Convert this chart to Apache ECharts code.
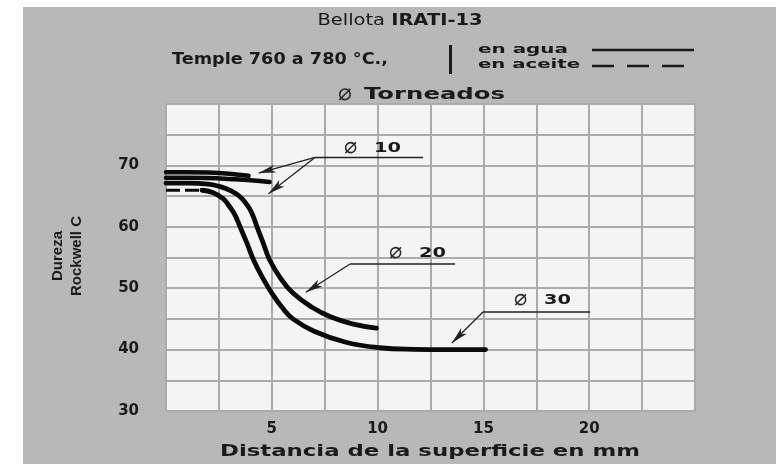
<!DOCTYPE html>
<html><head><meta charset="utf-8">
<script src="https://cdn.jsdelivr.net/npm/echarts@6/dist/echarts.min.js"></script>
<style>
html,body{margin:0;padding:0;background:#fff;width:776px;height:464px;overflow:hidden}
#c{position:absolute;left:23px;top:7px;width:753px;height:457px}
</style>
</head><body><div id="c"></div>
<script>
// ---- data (mm from surface, HRC) ----
const xTickLabels = [5, 10, 15, 20];
const yTickLabels = [30, 40, 50, 60, 70];
const curve10a = [[0,68.9],[1,68.9],[2,68.85],[3,68.65],[3.9,68.3]];
const curve10b = [[0,68.0],[1,68.0],[2,67.95],[3,67.8],[4,67.6],[4.9,67.3]];
const curve20 = [[0,67.1],[1,67.1],[2,66.95],[2.6,66.5],[3.1,65.8],[3.5,64.9],[3.8,63.7],[4.05,62.3],[4.3,60.0],[4.6,57.3],[4.9,54.6],[5.4,51.7],[6.0,49.2],[6.9,46.9],[7.8,45.3],[8.8,44.2],[9.95,43.5]];
const curve30 = [[1.7,65.95],[2.2,65.6],[2.7,64.6],[3.0,63.3],[3.25,62.0],[3.5,60.0],[3.83,57.3],[4.15,54.5],[4.55,51.8],[5.0,49.2],[5.5,46.8],[6.0,45.0],[7.0,43.0],[8.5,41.2],[10.1,40.3],[11.7,40.05],[13.3,40.0],[15.1,40.0]];
const curveAceite = [[0,65.95],[1.7,65.95]];
// callouts
const leader10 = [[7.04,71.29],[12.15,71.29]];
const arrows10 = [[[7.04,71.29],[4.38,68.75]], [[7.04,71.29],[4.84,65.39]]];
const leader20 = [[8.70,53.94],[13.66,53.94]];
const arrows20 = [[[8.70,53.94],[6.61,49.35]]];
const leader30 = [[14.98,46.12],[20.04,46.12]];
const arrows30 = [[[14.98,46.12],[13.51,41.07]]];
const calloutText = ['10', '20', '30'];
const calloutAt = [[8.46,72.85],[10.59,55.75],[16.49,48.1]];

const FF = 'DejaVu Sans';
const INK = '#1a1a1a';
const chart = echarts.init(document.getElementById('c'), null, {renderer: 'canvas'});

function curve(data, w) {
  return {type:'line', data, showSymbol:false, smooth:0.45, silent:true,
    lineStyle:{color:'#0a0a0a', width:w, cap:'round'}, z:5};
}
function leader(line, arrows) {
  return {type:'line', data:line, showSymbol:false, silent:true, z:4,
    lineStyle:{color:'#222', width:1.3},
    markLine:{silent:true, animation:false, symbol:['none','arrow'], symbolSize:[1,1],
      label:{show:false}, lineStyle:{color:'#222', width:1.3, type:'solid'},
      emphasis:{disabled:true},
      data: arrows.map(a => [{coord:a[0], symbol:'none'}, {coord:a[1], symbol:'arrow', symbolSize:[6,17]}])}};
}

chart.setOption({
  animation:false,
  backgroundColor:'#b8b8b8',
  grid:{left:143, right:81, top:97, bottom:53, show:true, backgroundColor:'#f4f4f4', borderWidth:0},
  xAxis:{type:'value', min:0, max:25, interval:2.5,
    axisLine:{show:false}, axisTick:{show:false},
    splitLine:{show:true, lineStyle:{color:'#ababab', width:2}},
    axisLabel:{margin:11, color:INK, fontFamily:FF, fontWeight:'bold', fontSize:15,
      formatter:v => xTickLabels.includes(v) ? String(v) : ''}},
  yAxis:{type:'value', min:30, max:80, interval:5,
    axisLine:{show:false}, axisTick:{show:false},
    splitLine:{show:true, lineStyle:{color:'#ababab', width:2}},
    axisLabel:{margin:27, color:INK, fontFamily:FF, fontWeight:'bold', fontSize:15,
      formatter:v => yTickLabels.includes(v) ? String(v) : ''}},
  series:[
    leader(leader10, arrows10), leader(leader20, arrows20), leader(leader30, arrows30),
    curve(curve10a, 4.5), curve(curve10b, 4.5), curve(curve20, 4.8), curve(curve30, 4.8),
    {type:'line', data:curveAceite, showSymbol:false, silent:true, z:5,
      lineStyle:{color:'#0a0a0a', width:3, type:[14,5]}}
  ]
});

// ---- text layout helpers ----
const mctx = document.createElement('canvas').getContext('2d');
function tw(text, size, weight, fam) { mctx.font = `${weight} ${size}px "${fam||FF}"`; return mctx.measureText(text).width; }
function stretched(text, x, y, size, target, align, weight) {
  const w = tw(text, size, weight||'bold');
  return {type:'text', x, y, scaleX: target / w, silent:true, z:10,
    style:{text, fill:INK, fontFamily:FF, fontSize:size, fontWeight:weight||'bold',
      textAlign:align, textVerticalAlign:'middle', verticalAlign:'middle'}};
}
function diam(x, y, size) {
  return {type:'text', x, y, silent:true, z:10,
    style:{text:'⌀', fill:'#2a2a2a', fontFamily:FF, fontSize:size, fontWeight:'normal',
      textAlign:'left', textVerticalAlign:'middle', verticalAlign:'middle'}};
}
const OX = 23, OY = 7;
const g = [];
(function(){
  const s = 15;
  const w = tw('Bellota ', s, 'normal') + tw('IRATI-13', s, 'bold');
  g.push({type:'text', x:400-OX, y:21-OY, scaleX:165 / w, silent:true, z:10,
    style:{text:'{a|Bellota }{b|IRATI-13}', textAlign:'center', textVerticalAlign:'middle', verticalAlign:'middle',
      rich:{a:{fontFamily:FF, fontSize:s, fontWeight:'normal', fill:INK},
            b:{fontFamily:FF, fontSize:s, fontWeight:'bold', fill:INK}}}});
})();
g.push(stretched('Temple 760 a 780 °C.,', 172-OX, 60-OY, 15, 216, 'left'));
g.push({type:'rect', shape:{x:449-OX, y:45-OY, width:3, height:29}, style:{fill:INK}, silent:true, z:10});
g.push(stretched('en agua', 478-OX, 50-OY, 13, 90, 'left'));
g.push(stretched('en aceite', 478-OX, 65-OY, 13, 102, 'left'));
g.push({type:'line', shape:{x1:592-OX, y1:50-OY, x2:694-OX, y2:50-OY}, style:{stroke:INK, lineWidth:2.5}, silent:true, z:10});
g.push({type:'line', shape:{x1:592-OX, y1:66-OY, x2:697-OX, y2:66-OY}, style:{stroke:INK, lineWidth:2.5, lineDash:[22,13]}, silent:true, z:10});
g.push(diam(338-OX, 94-OY, 23));
g.push(stretched('Torneados', 364-OX, 95-OY, 15, 141, 'left'));
g.push(stretched('Distancia de la superficie en mm', 430-OX, 452-OY, 15, 420, 'center'));
g.push({type:'text', x:67-OX, y:256-OY, rotation:Math.PI/2, silent:true, z:10,
  style:{text:'Dureza\nRockwell C', fill:INK, fontFamily:'Liberation Sans', fontSize:15, fontWeight:'bold',
    lineHeight:19, textAlign:'center', textVerticalAlign:'middle', verticalAlign:'middle'}});
calloutText.forEach((t, i) => {
  const p = chart.convertToPixel({xAxisIndex:0, yAxisIndex:0}, calloutAt[i]);
  g.push(diam(p[0] - 1, p[1] - 1, 22));
  g.push(stretched(t, p[0] + 29, p[1], 14, 27, 'left'));
});
chart.setOption({graphic:{elements:g}});
</script>
</body></html>
